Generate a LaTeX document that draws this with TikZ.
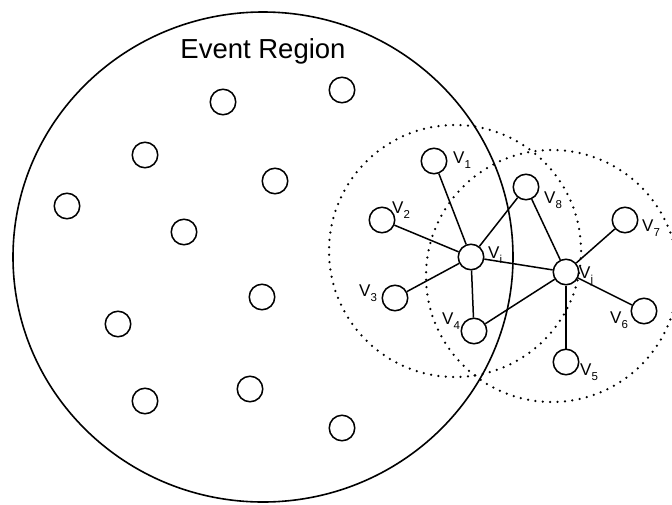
\documentclass[tikz,border=0pt]{standalone}
\usepackage{fontspec}
\setmainfont{Liberation Sans}
\newcommand{\lbl}[2]{V\raisebox{-0.3em}{\fontsize{11.5}{12}\selectfont #2}}
\begin{document}
\begin{tikzpicture}[x=1pt,y=-1pt,
  dot/.style={circle,draw,line width=1.5pt,minimum size=25.5pt,inner sep=0pt},
  edge/.style={line width=1.5pt},
  rng/.style={line width=2.5pt,line cap=round,dash pattern=on 0pt off 7.4pt},
  lab/.style={anchor=base west,inner sep=0pt,font=\fontsize{17}{19}\selectfont}]
\useasboundingbox (0,0) rectangle (672,504);
\begin{scope}
\clip (0,0) rectangle (672,504);
% event region
\draw[line width=1.6pt] (263,257) ellipse [x radius=250, y radius=245];
\node[font=\fontsize{27.5}{30}\selectfont,anchor=base,inner sep=0pt] (title) at (263,58) {Event Region};
% dotted ranges
\draw[rng] (455,251) circle [radius=126];
\draw[rng] (552,276) circle [radius=126];
\end{scope}
% free nodes
\node[dot] (a1) at (223,102) {};
\node[dot] (a2) at (342,90) {};
\node[dot] (a3) at (145,155) {};
\node[dot] (a4) at (275,181) {};
\node[dot] (a5) at (67,206) {};
\node[dot] (a6) at (184,232) {};
\node[dot] (a7) at (262,297) {};
\node[dot] (a8) at (118,324) {};
\node[dot] (a9) at (145,401) {};
\node[dot] (a10) at (250,389) {};
\node[dot] (a11) at (342,428) {};
% graph nodes
\node[dot] (v1) at (434,161) {};
\node[dot] (v2) at (382,220) {};
\node[dot] (vi) at (471,257) {};
\node[dot] (v3) at (395,298) {};
\node[dot] (v4) at (474,331) {};
\node[dot] (v8) at (526,187) {};
\node[dot] (vj) at (566,272) {};
\node[dot] (v7) at (625,220) {};
\node[dot] (v6) at (644,311) {};
\node[dot] (v5) at (566,362) {};
% edges
\draw[edge] (vi) -- (v1);
\draw[edge] (vi) -- (v2);
\draw[edge] (vi) -- (v3);
\draw[edge] (vi) -- (v4);
\draw[edge] (vi) -- (v8);
\draw[edge] (vi) -- (vj);
\draw[edge] (vj) -- (v8);
\draw[edge] (vj) -- (v7);
\draw[edge] (vj) -- (v6);
\draw[edge] (vj) -- (v5);
\draw[edge] (vj) -- (v4);
% labels
\node[lab] (l1) at (453,163) {\lbl{V}{1}};
\node[lab] (l2) at (392,213) {\lbl{V}{2}};
\node[lab] (li) at (488,258) {\lbl{V}{i}};
\node[lab] (l8) at (544,203) {\lbl{V}{8}};
\node[lab] (l7) at (642,231) {\lbl{V}{7}};
\node[lab] (lj) at (579,278) {\lbl{V}{j}};
\node[lab] (l3) at (359,296) {\lbl{V}{3}};
\node[lab] (l4) at (442,324) {\lbl{V}{4}};
\node[lab] (l5) at (580,375) {\lbl{V}{5}};
\node[lab] (l6) at (610,323) {\lbl{V}{6}};
\end{tikzpicture}
\end{document}
